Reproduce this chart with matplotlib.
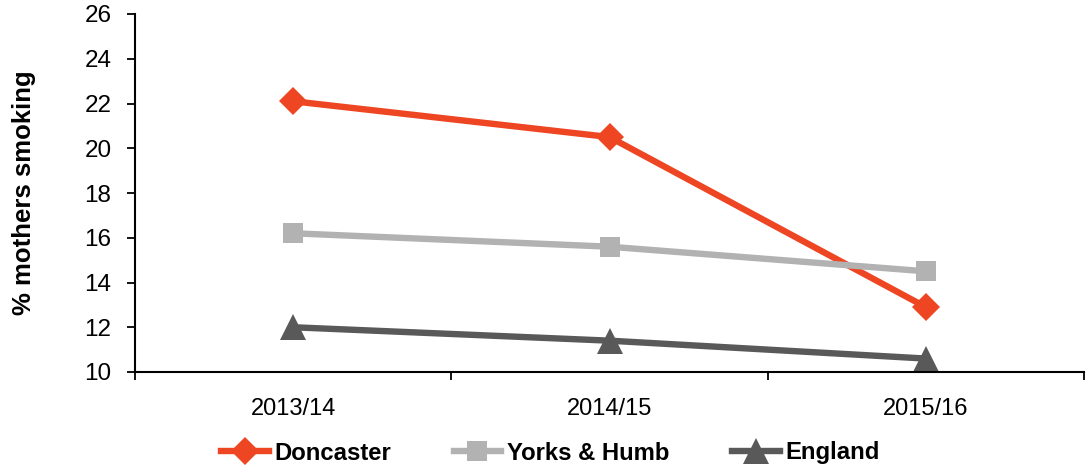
import matplotlib
matplotlib.use("Agg")
import matplotlib.pyplot as plt
from matplotlib.ticker import FixedLocator

plt.rcParams['font.family'] = ['Liberation Sans', 'DejaVu Sans']

years = ["2013/14", "2014/15", "2015/16"]
doncaster = [22.1, 20.5, 12.9]
yorks = [16.2, 15.6, 14.5]
england = [12.0, 11.4, 10.6]

fig = plt.figure(figsize=(10.9, 4.7), dpi=100)
ax = fig.add_axes([135/1090, 1-372/470, 949/1090, 358/470])

x = list(range(len(years)))
ax.plot(x, doncaster, color='#EE4523', lw=4.6, marker='D', ms=14.5, mew=0, label='Doncaster')
ax.plot(x, yorks, color='#B2B2B2', lw=4.6, marker='s', ms=15, mew=0, label='Yorks & Humb')
ax.plot(x, england, color='#595959', lw=4.6, marker='^', ms=18.5, mew=0, label='England')

ax.set_xlim(-0.5, 2.5)
ax.set_ylim(10, 26)
ax.set_yticks(range(10, 27, 2))
ax.set_xticks(x)
ax.set_xticklabels(years, fontsize=17)
ax.xaxis.set_minor_locator(FixedLocator([-0.5, 0.5, 1.5, 2.5]))
ax.tick_params(axis='x', which='major', length=0, pad=19)
ax.tick_params(axis='x', which='minor', length=6, width=1.3, direction='out')
ax.tick_params(axis='y', labelsize=17.5, length=6, width=1.3, direction='out', pad=11)
for s in ['top', 'right']:
    ax.spines[s].set_visible(False)
for s in ['left', 'bottom']:
    ax.spines[s].set_linewidth(1.5)
ax.set_ylabel('% mothers smoking', fontsize=18.5, fontweight='bold')
ax.yaxis.set_label_coords(-0.104, 0.5)

leg = fig.legend(loc='center', bbox_to_anchor=(0.505, 1-453/470), ncol=3, frameon=False,
                 prop={'weight': 'bold', 'size': 17.2}, handlelength=2.0, columnspacing=2.6,
                 handletextpad=0.25)

fig.savefig('out.png', dpi=100)
